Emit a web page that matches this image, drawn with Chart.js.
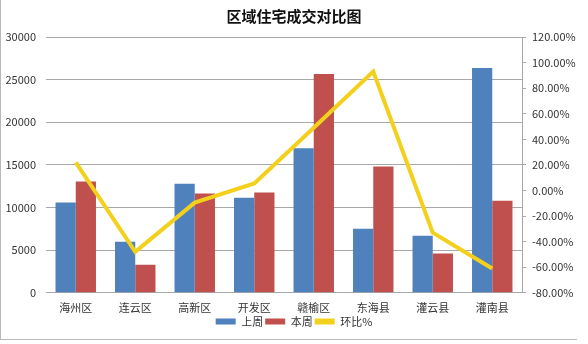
<!DOCTYPE html>
<html>
<head>
<meta charset="utf-8">
<script src="https://cdn.jsdelivr.net/npm/chart.js@4/dist/chart.umd.min.js"></script>
<style>
  html, body { margin: 0; padding: 0; background: #fff; }
  #wrap {
    position: relative; width: 588px; height: 344px;
  }
  #frame {
    position: absolute; left: 0; top: 0; width: 576px; height: 339px;
    border-left: 1px solid #b8b8b8; border-bottom: 1px solid #b8b8b8;
    pointer-events: none;
  }
  canvas { position: absolute; left: 0; top: 0; }
</style>
</head>
<body>
<div id="wrap">
  <canvas id="c" width="588" height="344"></canvas>
  <div id="frame"></div>
</div>
<script>
/* ── 数据 ── */
const CATEGORIES = ['海州区', '连云区', '高新区', '开发区', '赣榆区', '东海县', '灌云县', '灌南县'];
const LAST_WEEK  = [10600, 6000, 12800, 11150, 16950, 7500, 6700, 26350];
const THIS_WEEK  = [13050, 3300, 11650, 11750, 25650, 14800, 4600, 10800];
const WOW_PCT    = [22, -48, -9.5, 5.5, 49, 93, -33, -61];

const C = {
  blue  : '#4f81bd',
  red   : '#c0504d',
  yellow: '#f2d01c',
  grid  : '#a8a8a8',
  text  : '#333333',
};

Chart.defaults.font = { family: "'Noto Sans CJK SC', 'Noto Sans', sans-serif", size: 11 };
Chart.defaults.color = C.text;

const ORDER = ['上周', '本周', '环比%'];

new Chart(document.getElementById('c'), {
  type: 'bar',
  data: {
    labels: CATEGORIES,
    datasets: [
      {
        type: 'line',
        label: '环比%',
        data: WOW_PCT,
        yAxisID: 'y1',
        borderColor: C.yellow,
        backgroundColor: C.yellow,
        borderWidth: 4,
        pointRadius: 0,
        tension: 0,
        order: 0,
      },
      {
        label: '上周',
        data: LAST_WEEK,
        yAxisID: 'y',
        backgroundColor: C.blue,
        categoryPercentage: 0.68,
        barPercentage: 1,
        order: 1,
      },
      {
        label: '本周',
        data: THIS_WEEK,
        yAxisID: 'y',
        backgroundColor: C.red,
        categoryPercentage: 0.68,
        barPercentage: 1,
        order: 1,
      },
    ]
  },
  options: {
    responsive: false,
    animation: false,
    layout: { padding: { left: 0, right: 0, top: 0, bottom: 7 } },
    plugins: {
      title: {
        display: true,
        text: '区域住宅成交对比图',
        color: '#111',
        font: { size: 15, weight: 'bold' },
        padding: { top: 7, bottom: 12 },
      },
      legend: {
        position: 'bottom',
        labels: {
          boxWidth: 20,
          boxHeight: 6,
          padding: 2,
          font: { size: 11 },
          sort: (a, b) => ORDER.indexOf(a.text) - ORDER.indexOf(b.text),
          generateLabels: chart => {
            const items = Chart.defaults.plugins.legend.labels.generateLabels(chart);
            items.forEach(it => { it.lineWidth = 0; });
            return items;
          }
        }
      },
      tooltip: { enabled: false }
    },
    scales: {
      x: {
        grid: { display: false },
        border: { display: true, color: C.grid },
        ticks: { padding: 0, color: C.text },
      },
      y: {
        position: 'left',
        min: 0, max: 30000,
        ticks: { stepSize: 5000, padding: 10, color: C.text, callback: v => String(v) },
        grid: { color: C.grid, drawTicks: false },
        border: { display: false },
        afterFit: s => { s.width = 46; },
      },
      y1: {
        position: 'right',
        min: -80, max: 120,
        ticks: {
          stepSize: 20, padding: 6, color: C.text,
          callback: v => v.toFixed(2) + '%'
        },
        grid: { drawOnChartArea: false, tickLength: 4, color: C.grid },
        border: { display: true, color: C.grid },
        afterFit: s => { s.width = 66; },
      }
    }
  }
});
</script>
</body>
</html>
